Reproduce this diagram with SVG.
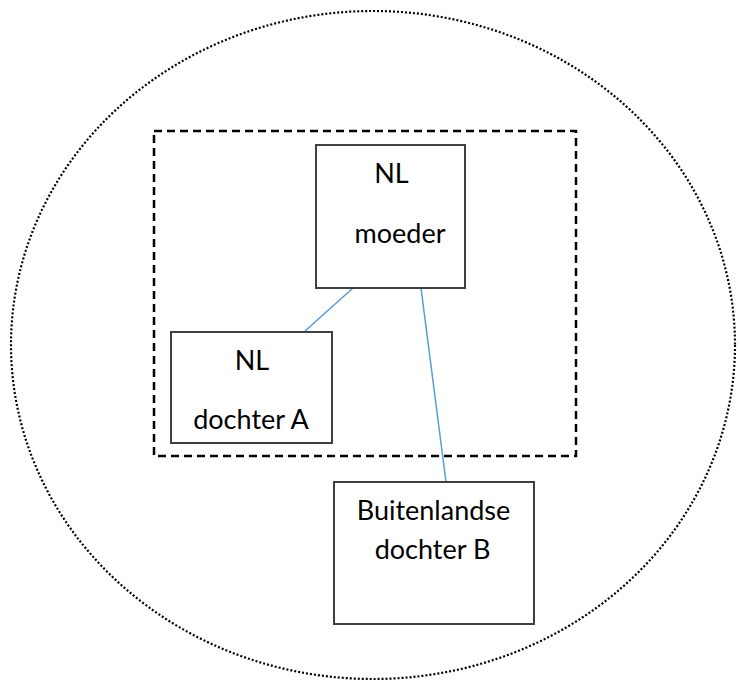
<svg xmlns="http://www.w3.org/2000/svg" width="740" height="684" viewBox="0 0 740 684">
<style>
.box{fill:#fff;stroke:#404040;stroke-width:2}
.t{font-family:Lato,"Open Sans","Liberation Sans",sans-serif;font-size:27px;fill:#000}
.c{stroke:#5b9bd5;stroke-width:1.5;fill:none}
</style>
<rect width="740" height="684" fill="#fff"/>
<ellipse id="scope" cx="373" cy="345" rx="362" ry="334" fill="none" stroke="#000" stroke-width="2.2" stroke-dasharray="2 2"/>
<rect id="group" x="154" y="131" width="422" height="325" fill="none" stroke="#000" stroke-width="2.5" stroke-dasharray="8 5"/>
<g id="connectors">
<line class="c" x1="353" y1="288" x2="305" y2="331"/>
<line class="c" x1="421" y1="288" x2="446" y2="482"/>
</g>
<g id="moeder">
<rect class="box" x="316" y="145" width="149" height="143"/>
<text class="t" x="391.5" y="183" text-anchor="middle">NL</text>
<text class="t" x="400" y="243" text-anchor="middle">moeder</text>
</g>
<g id="dochterA">
<rect class="box" x="171" y="332" width="161" height="111"/>
<text class="t" x="252" y="370" text-anchor="middle">NL</text>
<text class="t" x="251" y="429" text-anchor="middle">dochter A</text>
</g>
<g id="dochterB">
<rect class="box" x="334" y="482" width="200" height="142"/>
<text class="t" x="433.5" y="520" text-anchor="middle">Buitenlandse</text>
<text class="t" x="432.5" y="559" text-anchor="middle">dochter B</text>
</g>
</svg>
